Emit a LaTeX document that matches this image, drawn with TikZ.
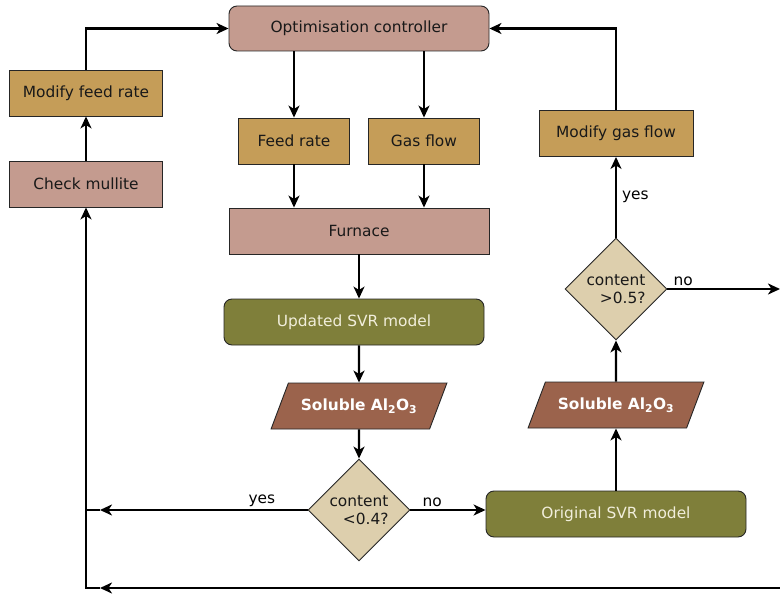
\documentclass[tikz,border=0pt]{standalone}
\usepackage{fontspec}
\setmainfont{DejaVu Sans}
\usepackage{tikz}
\usetikzlibrary{shapes.geometric,arrows.meta}

\definecolor{rosebox}{HTML}{C49B8F}
\definecolor{ochrebox}{HTML}{C59D58}
\definecolor{olivebox}{HTML}{7F7F3A}
\definecolor{rustbox}{HTML}{9B634C}
\definecolor{sandbox}{HTML}{DDCFAD}
\definecolor{creamtext}{HTML}{F1EEDB}

\begin{document}
\begin{tikzpicture}[x=1pt,y=-1pt,->,>={Stealth[length=12pt,width=11pt,inset=3.5pt]},line width=2.2pt,
	font=\fontsize{15.4}{18}\selectfont,
	box node/.style={draw=black!85,line width=0.9pt,minimum height=46pt,inner sep=2pt,text=black!90},
	rose node/.style={box node,fill=rosebox},
	ochre node/.style={box node,fill=ochrebox},
	model node/.style={box node,fill=olivebox,text=creamtext,rounded corners=8pt,minimum width=260pt},
	data node/.style={box node,trapezium,trapezium left angle=52,trapezium right angle=128,trapezium stretches=true,fill=rustbox,text=white,font=\fontsize{15.4}{18}\selectfont\bfseries,minimum width=176pt},
	check node/.style={box node,diamond,fill=sandbox,minimum width=102pt,minimum height=102pt,align=right,inner sep=0pt},
	label node/.style={draw=none,fill=none,inner sep=2pt}]
	
	\useasboundingbox (0,0) rectangle (780,594);
	
	% controller and the two set points
	\node[rose node, rounded corners=8pt, minimum width=260pt, minimum height=45pt] (opt) at (359,28.5) {Optimisation controller};
	\node[ochre node, minimum width=111pt] (feed) at (294,141) {Feed rate};
	\node[ochre node, minimum width=111pt] (gas) at (424,141) {Gas flow};
	\node[rose node, minimum width=260pt] (furn) at (359,231) {Furnace};
	
	% left branch
	\node[model node] (usvr) at (354,322) {Updated SVR model};
	\node[data node] (sol1) at (359,406) {Soluble Al\textsubscript{2}O\textsubscript{3}};
	\node[check node] (chk1) at (359,510) {content\\<0.4?};
	
	% right branch
	\node[model node] (osvr) at (616,514) {Original SVR model};
	\node[data node] (sol2) at (616,405) {Soluble Al\textsubscript{2}O\textsubscript{3}};
	\node[check node] (chk2) at (616,289) {content\\>0.5?};
	\node[ochre node, minimum width=154pt] (gasmod) at (616,133.5) {Modify gas flow};
	
	% feedback on the feed rate
	\node[ochre node, minimum width=153pt] (feedmod) at (86,93) {Modify feed rate};
	\node[rose node, minimum width=153pt] (mull) at (86,184) {Check mullite};
	
	\coordinate (jy) at (86,510);
	\coordinate (jyarr) at (100,510);
	\coordinate (jb) at (86,588);
	\coordinate (jbarr) at (100,588);
	\coordinate (rb) at (781,588);
	\coordinate (rno) at (780,289);
	
	\path
	(opt.south -| feed) edge (feed)
	(opt.south -| gas) edge (gas)
	(feed) edge (furn.north -| feed)
	(gas) edge (furn.north -| gas)
	(furn) edge (furn.south |- usvr.north)
	(usvr.south -| sol1) edge (sol1)
	(sol1) edge (chk1)
	(chk1) edge node[label node, above, pos=0.29] (no1) {no} (chk1.east -| osvr.west)
	(osvr) edge (sol2)
	(sol2) edge (chk2)
	(chk2) edge node[label node, right, pos=0.5, xshift=3pt] (yes2) {yes} (gasmod)
	(chk2) edge node[label node, above, pos=0.14] (no2) {no} (rno)
	(mull) edge (feedmod);
	
	\draw (gasmod) |- (opt);
	\draw (feedmod) |- (opt);
	
	% back to the mullite check
	\draw (chk1) -- node[label node, above, pos=0.22] (yes1) {yes} (jyarr);
	\draw[-] (jyarr) -- (jy);
	\draw (rb) -- (jbarr);
	\draw (jbarr) -- (jb) -- (mull);
	
\end{tikzpicture}
\end{document}
